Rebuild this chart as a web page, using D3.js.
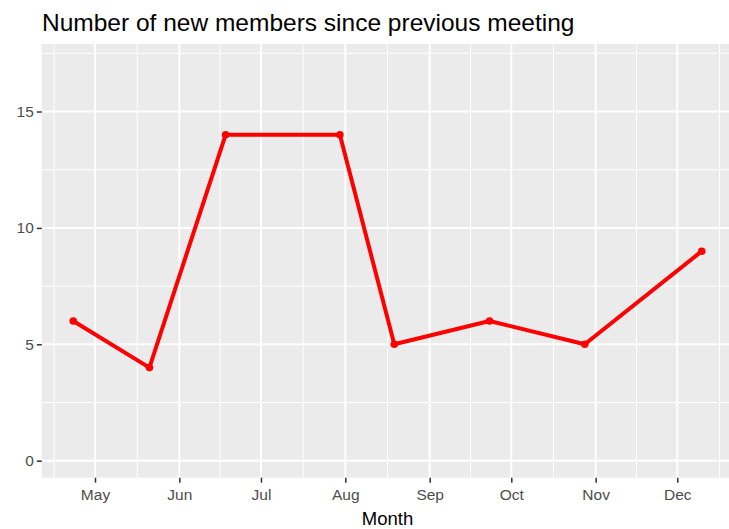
<!DOCTYPE html>
<html>
<head>
<meta charset="utf-8">
<script src="https://cdn.jsdelivr.net/npm/d3@7"></script>
<style>
  html, body { margin: 0; padding: 0; background: #ffffff; }
  svg { display: block; font-family: "Liberation Sans", Arial, sans-serif; }
</style>
</head>
<body>
<svg id="chart" width="729" height="529"></svg>
<script>
// ---- data ----
const meetingDates = ["2023-04-23", "2023-05-21", "2023-06-18", "2023-07-30",
                      "2023-08-19", "2023-09-23", "2023-10-28", "2023-12-10"];
const newMembers = [6, 4, 14, 14, 5, 6, 5, 9];
const yTicks = [0, 5, 10, 15];
const yMinorTicks = [2.5, 7.5, 12.5, 17.5];
const titleText = "Number of new members since previous meeting";
const xTitleText = "Month";

// ---- layout ----
const W = 729, H = 529;
const panel = { left: 41.8, right: 733.2, top: 44, bottom: 477.7 };

const parse = d3.utcParse("%Y-%m-%d");
const data = meetingDates.map((d, i) => ({ date: parse(d), value: newMembers[i] }));

// ggplot-style 5% expansion on the x extent
const ext = d3.extent(data, d => d.date);
const span = ext[1] - ext[0];
const x = d3.scaleUtc()
  .domain([new Date(+ext[0] - span * 0.05), new Date(+ext[1] + span * 0.05)])
  .range([panel.left, panel.right]);

const y = d3.scaleLinear()
  .domain([-0.73, 17.9])
  .range([panel.bottom, panel.top]);

const svg = d3.select("#chart");

// panel background
svg.append("rect")
  .attr("x", panel.left).attr("y", panel.top)
  .attr("width", panel.right - panel.left).attr("height", panel.bottom - panel.top)
  .attr("fill", "#EBEBEB");

// x major breaks: month starts; minor: midpoints between majors
const majorAll = d3.utcMonth.range(d3.utcMonth.floor(x.domain()[0]), d3.utcMonth.offset(x.domain()[1], 2));
const xMajor = majorAll.filter(d => d >= x.domain()[0] && d <= x.domain()[1]);
const xMinor = [];
for (let i = 0; i < majorAll.length - 1; i++) {
  const m = new Date((+majorAll[i] + +majorAll[i + 1]) / 2);
  if (m >= x.domain()[0] && m <= x.domain()[1]) xMinor.push(m);
}

const grid = svg.append("g");
// minor grid
grid.selectAll(".ymin").data(yMinorTicks).join("line")
  .attr("x1", panel.left).attr("x2", panel.right)
  .attr("y1", d => y(d)).attr("y2", d => y(d))
  .attr("stroke", "#fff").attr("stroke-width", 1);
grid.selectAll(".xmin").data(xMinor).join("line")
  .attr("x1", d => x(d)).attr("x2", d => x(d))
  .attr("y1", panel.top).attr("y2", panel.bottom)
  .attr("stroke", "#fff").attr("stroke-width", 1);
// major grid
grid.selectAll(".ymaj").data(yTicks).join("line")
  .attr("x1", panel.left).attr("x2", panel.right)
  .attr("y1", d => y(d)).attr("y2", d => y(d))
  .attr("stroke", "#fff").attr("stroke-width", 2);
grid.selectAll(".xmaj").data(xMajor).join("line")
  .attr("x1", d => x(d)).attr("x2", d => x(d))
  .attr("y1", panel.top).attr("y2", panel.bottom)
  .attr("stroke", "#fff").attr("stroke-width", 2);

// line + points
const line = d3.line().x(d => x(d.date)).y(d => y(d.value));
svg.append("path").datum(data)
  .attr("d", line)
  .attr("fill", "none")
  .attr("stroke", "#FF0000")
  .attr("stroke-width", 4)
  .attr("stroke-linejoin", "round");
svg.selectAll(".pt").data(data).join("circle")
  .attr("cx", d => x(d.date)).attr("cy", d => y(d.value))
  .attr("r", 3.8).attr("fill", "#FF0000");

// axes
const yAxis = d3.axisLeft(y).tickValues(yTicks).tickSize(5).tickPadding(3).tickFormat(d3.format("d"));
const gy = svg.append("g").attr("transform", `translate(${panel.left},0)`).call(yAxis);
gy.select(".domain").remove();
gy.selectAll(".tick line").attr("stroke", "#333333").attr("stroke-width", 1.5);
gy.selectAll(".tick text").attr("fill", "#4D4D4D").attr("font-size", "15.5px")
  .attr("font-family", "Liberation Sans, Arial, sans-serif");

const xAxis = d3.axisBottom(x).tickValues(xMajor).tickSize(5).tickPadding(6)
  .tickFormat(d3.utcFormat("%b"));
const gx = svg.append("g").attr("transform", `translate(0,${panel.bottom})`).call(xAxis);
gx.select(".domain").remove();
gx.selectAll(".tick line").attr("stroke", "#333333").attr("stroke-width", 1.5);
gx.selectAll(".tick text").attr("fill", "#4D4D4D").attr("font-size", "15.5px")
  .attr("font-family", "Liberation Sans, Arial, sans-serif");

// titles
svg.append("text")
  .attr("x", 42).attr("y", 30.7)
  .attr("font-size", "24.5px").attr("fill", "#000")
  .text(titleText);
svg.append("text")
  .attr("x", (panel.left + panel.right) / 2).attr("y", 525)
  .attr("text-anchor", "middle")
  .attr("font-size", "18.5px").attr("fill", "#000")
  .text(xTitleText);
</script>
</body>
</html>
